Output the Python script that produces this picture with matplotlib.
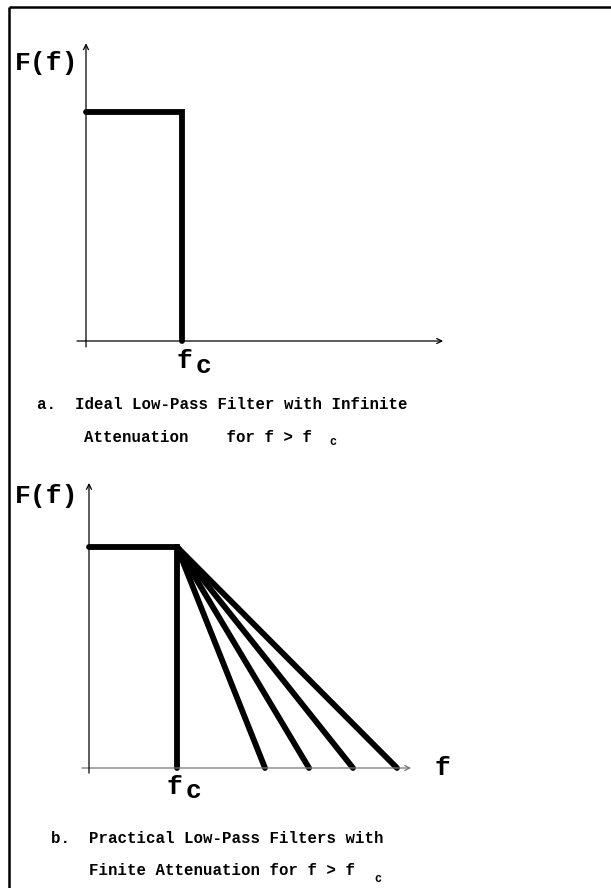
import numpy as np
import matplotlib
matplotlib.use("Agg")
import matplotlib.pyplot as plt

W, H = 611, 888
DPI = 100

# filter data (frequency in units of f_c, amplitude in units of passband level)
FC = 1.0
PASS_LEVEL = 1.0
ROLLOFF_ENDS = [2.0, 2.5, 3.0, 3.5]   # where each practical filter reaches zero

CAPTION_A = ["a.  Ideal Low-Pass Filter with Infinite", "Attenuation    for f > f"]
CAPTION_B = ["b.  Practical Low-Pass Filters with", "Finite Attenuation for f > f"]

MONO = ["Liberation Mono", "DejaVu Sans Mono"]
THICK = 4.2


def make_axes(fig, x0, y0, sx, sy, xlim, ylim):
    """axes whose data origin sits at pixel (x0, y0) from the top-left"""
    left = (x0 + sx * xlim[0]) / W
    bottom = (H - (y0 - sy * ylim[0])) / H
    ax = fig.add_axes([left, bottom, sx * (xlim[1] - xlim[0]) / W,
                       sy * (ylim[1] - ylim[0]) / H])
    ax.set_xlim(*xlim); ax.set_ylim(*ylim)
    ax.axis("off")
    return ax


def draw_axes_lines(ax, x_range, y_range, xcolor="black"):
    ax.annotate("", xy=(x_range[1], 0), xytext=(x_range[0], 0),
                arrowprops=dict(arrowstyle="->", lw=0.9, color=xcolor,
                                mutation_scale=9, shrinkA=0, shrinkB=0))
    ax.annotate("", xy=(0, y_range[1]), xytext=(0, y_range[0]),
                arrowprops=dict(arrowstyle="->", lw=0.9, color="black",
                                mutation_scale=9, shrinkA=0, shrinkB=0))


fig = plt.figure(figsize=(W / DPI, H / DPI), dpi=DPI)

# overlay in pixel coordinates for border and text
ov = fig.add_axes([0, 0, 1, 1])
ov.set_xlim(0, W); ov.set_ylim(H, 0); ov.axis("off")
ov.plot([9, 9], [7, H], color="black", lw=1.8, solid_capstyle="butt")
ov.plot([9, W], [7, 7], color="black", lw=1.8, solid_capstyle="butt")

# (a) ideal low-pass
axa = make_axes(fig, 86, 341, 96, 229, (-0.2, 4.0), (-0.1, 1.4))
draw_axes_lines(axa, (-0.094, 3.72), (-0.026, 1.30))
axa.plot([0, FC, FC], [PASS_LEVEL, PASS_LEVEL, 0], color="black", lw=THICK,
         solid_capstyle="round", solid_joinstyle="miter", clip_on=False)

# (b) practical low-pass
axb = make_axes(fig, 89, 768, 88, 221, (-0.2, 4.0), (-0.1, 1.4))
draw_axes_lines(axb, (-0.08, 3.66), (-0.023, 1.29), xcolor="#777777")
axb.plot([0, FC, FC], [PASS_LEVEL, PASS_LEVEL, 0], color="black", lw=THICK,
         solid_capstyle="round", solid_joinstyle="miter", clip_on=False)
for xe in ROLLOFF_ENDS:
    axb.plot([FC, xe], [PASS_LEVEL, 0], color="black", lw=THICK,
             solid_capstyle="round", clip_on=False)

big = dict(family=MONO, fontweight="bold", fontsize=19, va="baseline")
cap = dict(family=MONO, fontweight="bold", fontsize=11.3, va="baseline")
sub = dict(family=MONO, fontweight="bold", fontsize=8.5, va="baseline")

# labels for (a)
ov.text(15, 70, "F(f)", **big)
ov.text(177, 368, "f", **big)
ov.text(196, 373, "c", **big)
ov.text(37, 409, CAPTION_A[0], **cap)
ov.text(84, 442, CAPTION_A[1], **cap)
ov.text(329, 445, "c", **sub)

# labels for (b)
ov.text(15, 503, "F(f)", **big)
ov.text(434, 775, "f", **big)
ov.text(166, 794, "f", **big)
ov.text(186, 798, "c", **big)
ov.text(51, 843, CAPTION_B[0], **cap)
ov.text(89, 875, CAPTION_B[1], **cap)
ov.text(374, 882, "c", **sub)

fig.savefig("out.png", dpi=DPI, facecolor="white")
